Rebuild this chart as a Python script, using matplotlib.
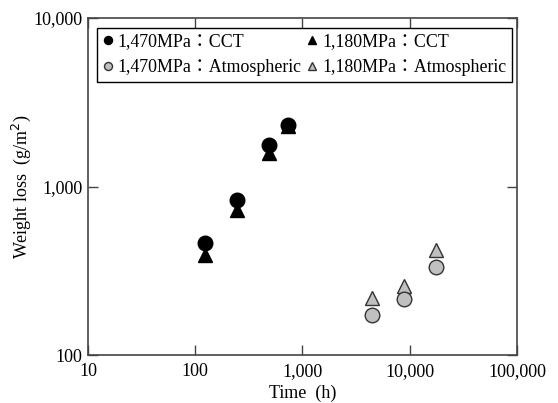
import matplotlib.pyplot as plt
from matplotlib.ticker import FuncFormatter, FixedLocator, NullLocator

plt.rcParams['font.family'] = ['Liberation Serif', 'Noto Sans CJK JP', 'DejaVu Sans']
plt.rcParams['font.size'] = 13

# data
t_cct = [123, 245, 486, 731]
w_1470_cct = [462, 832, 1763, 2317]
w_1180_cct = [392, 726, 1580, 2300]

t_atm = [4430, 8810, 17500]
w_1470_atm = [173, 215, 333]
w_1180_atm = [218, 257, 420]

labels = ["1,470MPa：CCT", "1,180MPa：CCT",
          "1,470MPa：Atmospheric", "1,180MPa：Atmospheric"]

fig = plt.figure(figsize=(5.58, 4.03), dpi=100)
ax = fig.add_axes([0.1577, 0.1191, 0.7688, 0.8362])

ms = 10.5
gray = '#c0c0c0'
edge = '#333333'
h2, = ax.plot(t_cct, w_1180_cct, '^', ms=ms, color='black', mec='black', label=labels[1])
h1, = ax.plot(t_cct, w_1470_cct, 'o', ms=ms, color='black', mec='black', label=labels[0])
h4, = ax.plot(t_atm, w_1180_atm, '^', ms=ms, color=gray, mec=edge, mew=1, label=labels[3])
h3, = ax.plot(t_atm, w_1470_atm, 'o', ms=ms, color=gray, mec=edge, mew=1, label=labels[2])

ax.set_xscale('log')
ax.set_yscale('log')
ax.set_xlim(10, 100000)
ax.set_ylim(100, 10000)
fmt = FuncFormatter(lambda v, p: f"{int(round(v)):,}")
ax.xaxis.set_major_locator(FixedLocator([10, 100, 1000, 10000, 100000]))
ax.yaxis.set_major_locator(FixedLocator([100, 1000, 10000]))
ax.xaxis.set_minor_locator(NullLocator())
ax.yaxis.set_minor_locator(NullLocator())
ax.xaxis.set_major_formatter(fmt)
ax.yaxis.set_major_formatter(fmt)
ax.tick_params(direction='in', length=7, width=1, color='#444444',
               top=True, right=True, labelsize=13)
ax.tick_params(axis='x', pad=6)
ax.tick_params(axis='y', pad=4)
for s in ax.spines.values():
    s.set_color('#444444')
    s.set_linewidth(1.2)

ax.set_xlabel("Time  (h)", fontsize=13, labelpad=3)
ax.set_ylabel("Weight loss  (g/m$^2$)", fontsize=13, labelpad=0)

leg = ax.legend([h1, h3, h2, h4], [labels[0], labels[2], labels[1], labels[3]],
                ncol=2, loc='upper left', bbox_to_anchor=(0.021, 0.97),
                fancybox=False, edgecolor='black', framealpha=1,
                markerscale=0.55, handlelength=0.6, handletextpad=0.25,
                columnspacing=0.3, borderpad=0.3, labelspacing=0.5,
                borderaxespad=0, fontsize=12.85)
leg.get_frame().set_linewidth(1.0)

fig.savefig("out.png", dpi=100)
